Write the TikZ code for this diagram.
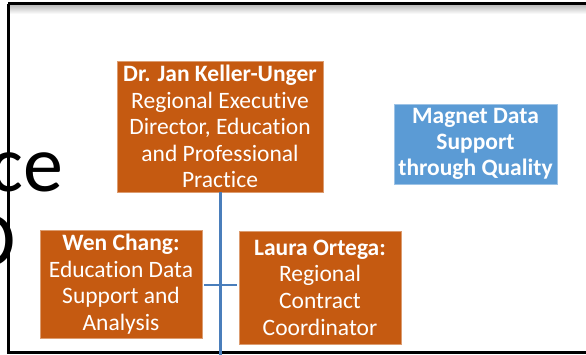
\documentclass[tikz,border=0pt]{standalone}
\usepackage{fontspec}
\setmainfont{Carlito}[Ligatures=NoCommon]
\definecolor{boxorange}{HTML}{C55A11}
\definecolor{boxblue}{HTML}{5B9BD5}
\definecolor{linkblue}{HTML}{4A7EBB}
\tikzset{
  orgbox/.style={fill=boxorange, draw=boxorange!60!white, line width=0.6pt, text=white, align=center, inner sep=0pt,
     font=\fontsize{23.5}{26.6}\selectfont},
  bluebox/.style={orgbox, fill=boxblue, draw=boxblue!60!white, font=\bfseries\fontsize{23.5}{26.3}\selectfont},
  link/.style={linkblue, line width=2.6pt},
  bigtext/.style={font=\fontsize{80}{80}\selectfont, inner sep=0pt, anchor=base east}
}
\begin{document}
\begin{tikzpicture}[x=1pt,y=-1pt]
\useasboundingbox (0,0) rectangle (586,355);
\begin{scope}
\clip (0,0) rectangle (586,355);
\fill[white] (0,0) rectangle (586,355);
\shade[top color=black!25, bottom color=white] (8,5.5) rectangle (586,14);
\node[bigtext] (ce) at (63,192) {ce};
\node[bigtext] (dd) at (16,267) {D};
\draw[line width=3pt] (8,4) -- (592,4) (8,4) -- (8,352) -- (592,352);
\node[orgbox, minimum width=206pt, minimum height=131pt] (jan) at (220,126.5)
  {\textbf{Dr. Jan Keller-Unger}\\Regional Executive\\Director, Education\\and Professional\\Practice};
\node[orgbox, minimum width=162pt, minimum height=108pt] (wen) at (121,284)
  {\textbf{Wen Chang:}\\Education Data\\Support and\\Analysis};
\node[orgbox, minimum width=162pt, minimum height=113pt] (laura) at (320,287.5)
  {\textbf{Laura Ortega:}\\Regional\\Contract\\Coordinator};
\node[bluebox, minimum width=163pt, minimum height=80pt] (magnet) at (475.5,144)
  {Magnet Data\\Support\\through Quality};
\coordinate (down) at (220.5,360);
\draw[link] ([xshift=0.5pt]jan.south) -- (down);
\draw[link] ([xshift=2pt]wen.east |- 0,285) -- ([xshift=-2pt]laura.west |- 0,285);
\end{scope}
\end{tikzpicture}
\end{document}
